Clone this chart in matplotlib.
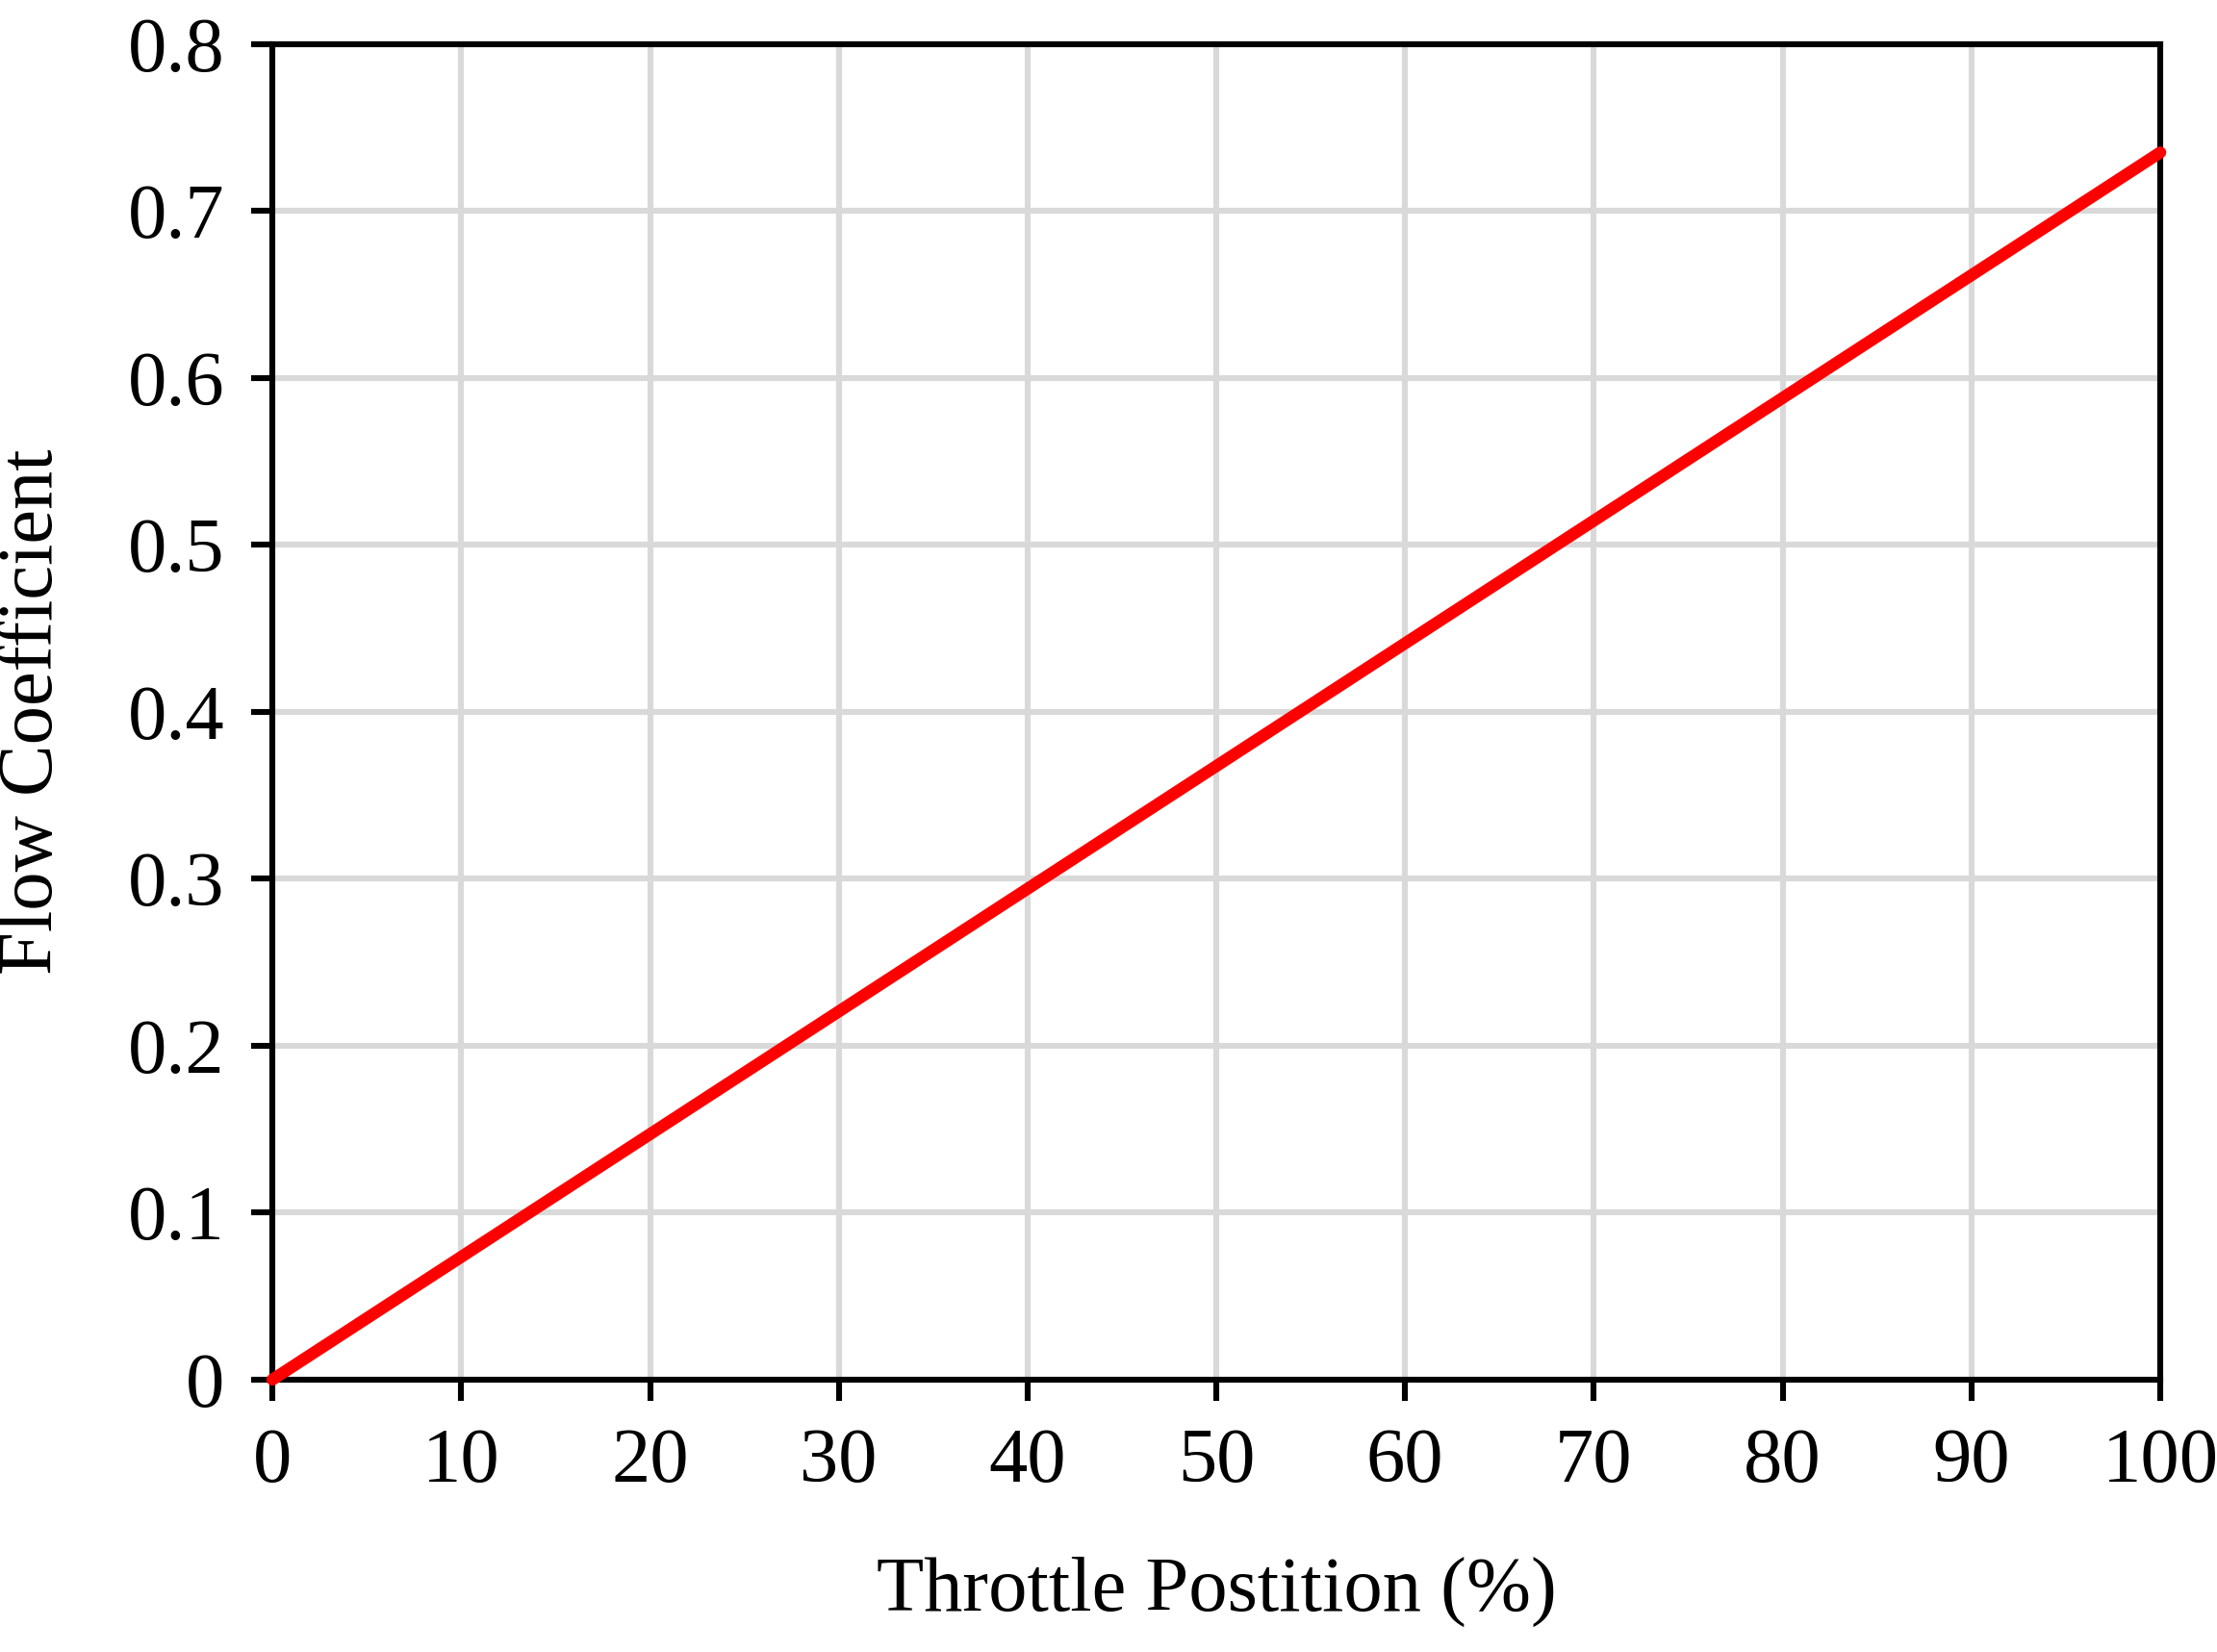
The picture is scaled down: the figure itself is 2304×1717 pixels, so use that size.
import matplotlib
matplotlib.use('Agg')
import matplotlib.pyplot as plt

# Throttle position vs flow coefficient (linear)
throttle = [0, 100]
flow_coef = [0, 0.735]
x_ticks = list(range(0, 101, 10))
y_ticks = [0, 0.1, 0.2, 0.3, 0.4, 0.5, 0.6, 0.7, 0.8]
y_labels = ['0', '0.1', '0.2', '0.3', '0.4', '0.5', '0.6', '0.7', '0.8']

plt.rcParams['font.family'] = ['Liberation Serif', 'DejaVu Serif']

fig = plt.figure(figsize=(11.52, 8.585), dpi=200)
ax = fig.add_axes([0.1229, 0.1649, 0.8515, 0.8085])

ax.plot(throttle, flow_coef, color='#ff0000', linewidth=4.5, zorder=3,
        clip_on=False, solid_capstyle='round')

ax.set_xlim(0, 100)
ax.set_ylim(0, 0.8)
ax.set_xticks(x_ticks)
ax.set_yticks(y_ticks)
ax.set_yticklabels(y_labels)
ax.grid(True, color='#d9d9d9', linewidth=2.2)
ax.set_axisbelow(True)

for s in ax.spines.values():
    s.set_linewidth(2.2)
ax.tick_params(direction='out', length=8, width=2.2, labelsize=29, pad=10)

ax.set_xlabel('Throttle Postition (%)', fontsize=29, labelpad=22)
ax.set_ylabel('Flow Coefficient', fontsize=29, labelpad=22)

fig.savefig('out.png', dpi=200)
